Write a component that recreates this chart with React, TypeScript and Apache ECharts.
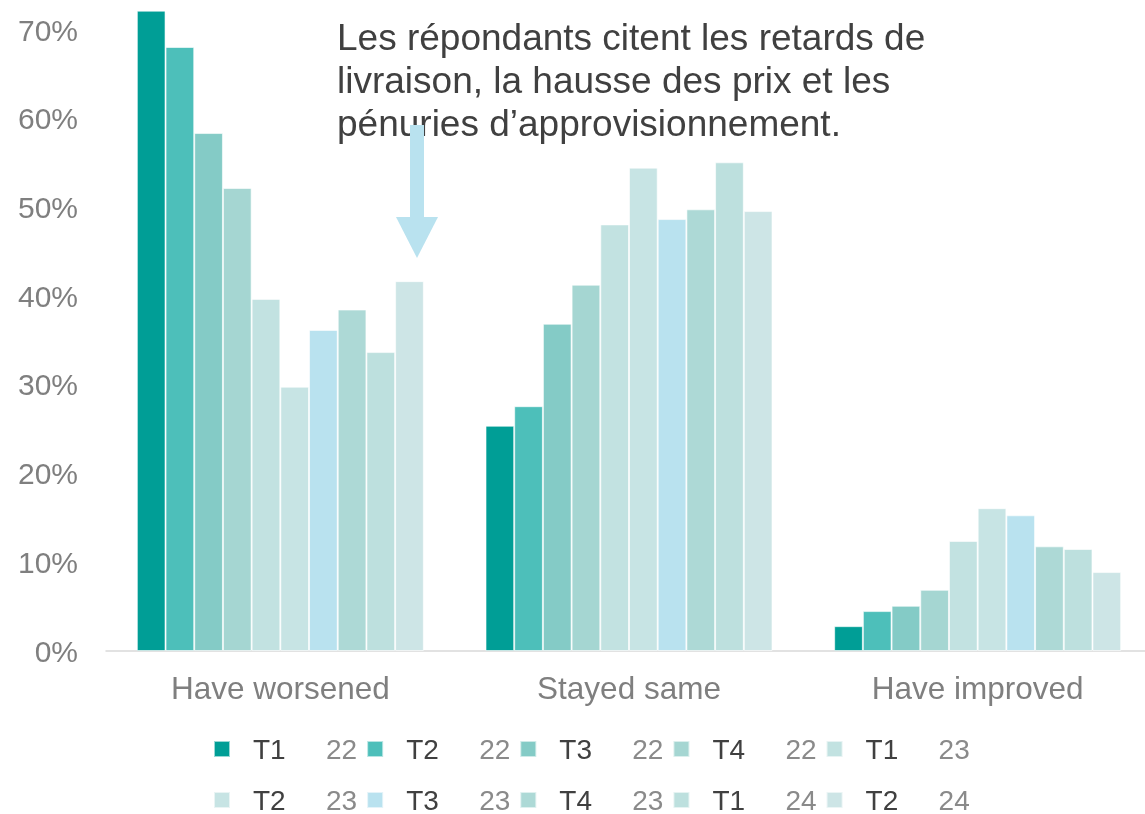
import React, { useEffect, useRef } from "react";
import * as echarts from "echarts";

const categories = ["Have worsened", "Stayed same", "Have improved"];
const seriesNames = [
  "T1 2022", "T2 2022", "T3 2022", "T4 2022", "T1 2023",
  "T2 2023", "T3 2023", "T4 2023", "T1 2024", "T2 2024",
];
const seriesColors = [
  "#009E96", "#4DBFBA", "#84CBC6", "#A5D6D2", "#C2E2E1",
  "#C7E4E4", "#B9E2EF", "#ADD9D6", "#BDE0DE", "#CDE5E6",
];
const worsened = [72.2, 68.1, 58.4, 52.2, 39.7, 29.8, 36.2, 38.5, 33.7, 41.7];
const stayedSame = [25.4, 27.6, 36.9, 41.3, 48.1, 54.5, 48.7, 49.8, 55.1, 49.6];
const improved = [2.8, 4.5, 5.1, 6.9, 12.4, 16.1, 15.3, 11.8, 11.5, 8.9];
const yTicks = [0, 10, 20, 30, 40, 50, 60, 70];
const annotation =
  "Les répondants citent les retards de\nlivraison, la hausse des prix et les\npénuries d’approvisionnement.";

const FONT = "'Liberation Sans', Arial, sans-serif";

function legendFor(names: string[], top: number) {
  return {
    left: 213,
    top,
    orient: "horizontal",
    icon: "rect",
    itemWidth: 16,
    itemHeight: 16,
    itemGap: 9,
    padding: 0,
    data: names,
    formatter: (name: string) => {
      const [q, y] = name.split(" ");
      return `{a|${q}}{b|${y.slice(2)}}`;
    },
    textStyle: {
      padding: [0, 0, 0, 18],
      rich: {
        a: { color: "#404040", fontSize: 28, width: 73, fontFamily: FONT },
        b: { color: "#8a8a8a", fontSize: 28, width: 33, fontFamily: FONT },
      },
    },
  };
}

export default function App() {
  const ref = useRef<HTMLDivElement>(null);

  useEffect(() => {
    if (!ref.current) return;
    const chart = echarts.init(ref.current, null, { renderer: "svg" });
    const series = seriesNames.map((name, i) => ({
      name,
      type: "bar",
      barWidth: 28.7,
      barGap: "0%",
      itemStyle: {
        color: seriesColors[i],
        borderColor: "rgba(255,255,255,0.6)",
        borderWidth: 1,
      },
      data: [worsened[i], stayedSame[i], improved[i]],
    }));

    chart.setOption({
      animation: false,
      textStyle: { fontFamily: FONT },
      grid: { left: 106, right: 0, top: 0, height: 651, containLabel: false },
      xAxis: {
        type: "category",
        data: categories,
        axisLine: { lineStyle: { color: "#d9d9d9", width: 1.5 } },
        axisTick: { show: false },
        axisLabel: { color: "#7f7f7f", fontSize: 31.5, margin: 21, fontFamily: FONT },
      },
      yAxis: {
        type: "value",
        min: 0,
        max: 73.4,
        interval: 10,
        splitLine: { show: false },
        axisLine: { show: false },
        axisTick: { show: false },
        axisLabel: {
          color: "#7f7f7f",
          fontSize: 30,
          margin: 28,
          fontFamily: FONT,
          showMaxLabel: false,
          formatter: (v: number) => (yTicks.includes(Math.round(v * 10) / 10) ? `${v}%` : ""),
        },
      },
      legend: [
        legendFor(seriesNames.slice(0, 5), 735),
        legendFor(seriesNames.slice(5), 786),
      ],
      graphic: [
        {
          type: "text",
          left: 337,
          top: 16,
          z: 10,
          style: {
            text: annotation,
            font: `37px ${FONT}`,
            lineHeight: 43,
            fill: "#404040",
          },
        },
        {
          type: "rect",
          z: 11,
          shape: { x: 410, y: 125, width: 14, height: 93 },
          style: { fill: "#B9E2EF" },
        },
        {
          type: "polygon",
          z: 11,
          shape: { points: [[396, 217], [438, 217], [417, 258]] },
          style: { fill: "#B9E2EF" },
        },
      ],
      series,
    });
    return () => chart.dispose();
  }, []);

  return (
    <div
      ref={ref}
      style={{ position: "fixed", left: 0, top: 0, width: 1152, height: 814 }}
    />
  );
}
